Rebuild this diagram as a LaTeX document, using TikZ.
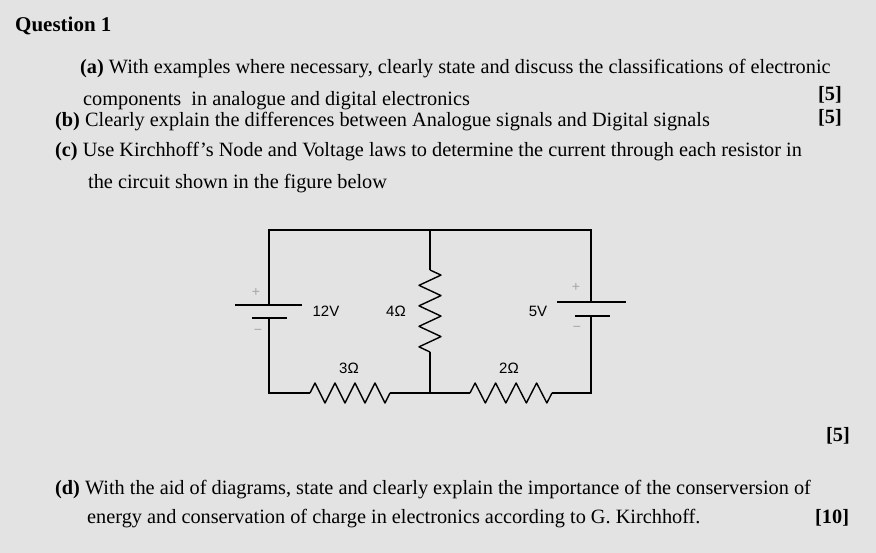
\documentclass[tikz,border=0pt]{standalone}
\usepackage{fontspec}
\setmainfont{Liberation Serif}
\setsansfont{Liberation Sans}
\begin{document}
\begin{tikzpicture}[x=1pt,y=-1pt,
  txt/.style={anchor=base west,inner sep=0,font=\fontsize{20.3}{22}\selectfont},
  lab/.style={inner sep=0,font=\sffamily\fontsize{15}{16}\selectfont},
  pm/.style={inner sep=0,text=gray!70,font=\sffamily\fontsize{14}{14}\selectfont},
  wire/.style={line width=1.4pt}]
\fill[gray!22] (0,0) rectangle (876,553);
\useasboundingbox (0,0) rectangle (876,553);
\node[txt,font=\bfseries\fontsize{21}{22}\selectfont] (q) at (15,32) {Question 1};
\node[txt] (a1) at (80,74) {\textbf{(a)} With examples where necessary, clearly state and discuss the classifications of electronic};
\node[txt] (a2) at (83,106) {components\ \ in analogue and digital electronics};
\node[txt] (a3) at (818,101) {\textbf{[5]}};
\node[txt] (b1) at (55,127) {\textbf{(b)} Clearly explain the differences between Analogue signals and Digital signals};
\node[txt] (b2) at (818,124) {\textbf{[5]}};
\node[txt] (c1) at (55,157) {\textbf{(c)} Use Kirchhoff's Node and Voltage laws to determine the current through each resistor in};
\node[txt] (c2) at (88,189) {the circuit shown in the figure below};
\node[txt] (c3) at (826,442) {\textbf{[5]}};
\node[txt] (d1) at (55,494) {\textbf{(d)} With the aid of diagrams, state and clearly explain the importance of the conserversion of};
\node[txt] (d2) at (87,523) {energy and conservation of charge in electronics according to G. Kirchhoff.};
\node[txt] (d3) at (815,523) {\textbf{[10]}};
% circuit
\coordinate (tl) at (269,230); \coordinate (tm) at (430,230); \coordinate (tr) at (591,230);
\coordinate (bl) at (269,393); \coordinate (bm) at (430,393); \coordinate (br) at (591,393);
\coordinate (b1t) at (269,305); \coordinate (b1b) at (269,318);
\coordinate (b2t) at (591,302); \coordinate (b2b) at (591,316);
\coordinate (r4t) at (430,270); \coordinate (r4b) at (430,352);
\coordinate (r3l) at (310,393); \coordinate (r3r) at (390,393);
\coordinate (r2l) at (470,393); \coordinate (r2r) at (552,393);
\draw[wire] (b1t) -- (tl) -- (tr) -- (b2t);
\draw[wire] (b1b) -- (bl) -- (r3l);
\draw[wire,line join=round] (r3l) -- ++(5,-10) -- ++(10,20) -- ++(10,-20) -- ++(10,20) -- ++(10,-20) -- ++(10,20) -- ++(10,-20) -- ++(10,20) -- ++(5,-10) -- (r3r);
\draw[wire] (r3r) -- (r2l);
\draw[wire,line join=round] (r2l) -- ++(5.1,-10) -- ++(10.25,20) -- ++(10.25,-20) -- ++(10.25,20) -- ++(10.25,-20) -- ++(10.25,20) -- ++(10.25,-20) -- ++(10.25,20) -- ++(5.15,-10) -- (r2r);
\draw[wire] (r2r) -- (br) -- (b2b);
\draw[wire] (tm) -- (r4t);
\draw[wire,line join=round] (r4t) -- ++(11,5.1) -- ++(-22,10.25) -- ++(22,10.25) -- ++(-22,10.25) -- ++(22,10.25) -- ++(-22,10.25) -- ++(22,10.25) -- ++(-22,10.25) -- ++(11,5.15) -- (r4b);
\draw[wire] (r4b) -- (bm);
\draw[wire] (235,305) -- (302,305);
\draw[wire] (252,318) -- (287,318);
\draw[wire] (557,302) -- (626,302);
\draw[wire] (575,316) -- (610,316);
\node[pm] (p1) at (256,292) {+};
\node[pm] (m1) at (258,332) {−};
\node[pm] (p2) at (576,287) {+};
\node[pm] (m2) at (577,329) {−};
\node[lab] (l12) at (326,311) {12V};
\node[lab] (l4) at (396,311) {4Ω};
\node[lab] (l5) at (538,311) {5V};
\node[lab] (l3) at (349,368) {3Ω};
\node[lab] (l2) at (509,368) {2Ω};
\end{tikzpicture}
\end{document}
